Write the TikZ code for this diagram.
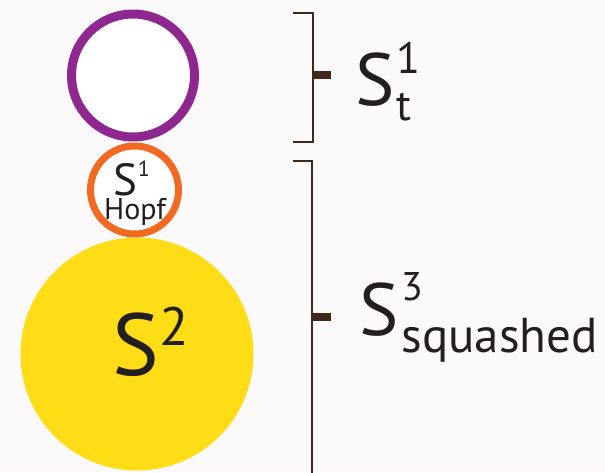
\documentclass[tikz,border=0pt]{standalone}
\usepackage{fontspec}
\setmainfont{PT Sans}
\definecolor{bg}{HTML}{FCF9FA}
\definecolor{ringpurple}{HTML}{8E278F}
\definecolor{ringorange}{HTML}{F26A21}
\definecolor{sunyellow}{HTML}{FEDD16}
\definecolor{ink}{HTML}{231F20}
\definecolor{brk}{HTML}{40281A}
\newcommand{\fs}[1]{\fontsize{#1}{#1}\selectfont}
\tikzset{
  lbl/.style={inner sep=0pt, anchor=base west, text=ink},
  ring/.style={line width=#1, fill=white},
  brline/.style={draw=brk, line width=2.5pt},
  brtick/.style={draw=brk, line width=8pt},
}
\begin{document}
\begin{tikzpicture}[x=1pt,y=-1pt]
\fill[bg] (0,0) rectangle (605,472);
\useasboundingbox (0,0) rectangle (605,472);
% circles
\fill[sunyellow] (137,354) circle[radius=116.5];
\draw[ring=7pt, draw=ringorange] (134.5,190) circle[radius=44];
\draw[ring=9pt, draw=ringpurple] (133,75.5) circle[radius=61.5];
% labels inside circles
\node[lbl] (s2) at (112,375) {\fs{88}S\kern1pt\raisebox{30pt}{\fs{54}2}};
\node[inner sep=0pt, anchor=base, text=ink] (hopf) at (135,195.5) {\vtop{\offinterlineskip
  \hbox to 70pt{\hss\fs{45}S\kern1pt\raisebox{19pt}{\fs{22}1}\kern7pt\hss}
  \kern2pt
  \hbox to 70pt{\hss\fs{30}Hopf\hss}}};
% brackets
\coordinate (b1a) at (293,13);
\coordinate (b1b) at (313,13);
\coordinate (b1c) at (313,142);
\coordinate (b1d) at (293,142);
\draw[brline] (b1a) -- (b1b) -- (b1c) -- (b1d);
\coordinate (t1a) at (313,75);
\coordinate (t1b) at (331,75);
\draw[brtick] (t1a) -- (t1b);
\coordinate (b2a) at (293,161);
\coordinate (b2b) at (312,161);
\coordinate (b2c) at (312,480);
\draw[brline] (b2a) -- (b2b) -- (b2c);
\coordinate (t2a) at (312,317);
\coordinate (t2b) at (331,317);
\draw[brtick] (t2a) -- (t2b);
% bracket labels
\node[lbl] (st) at (355,105) {\fs{74}S\kern2pt\rlap{\raisebox{32pt}{\fs{44}1}}\raisebox{-15pt}{\fs{44}t}};
\node[lbl] (ssq) at (359,335) {\fs{74}S\kern3pt\rlap{\raisebox{35pt}{\fs{40}3}}\raisebox{-17pt}{\fs{49}squashed}};
\end{tikzpicture}
\end{document}
